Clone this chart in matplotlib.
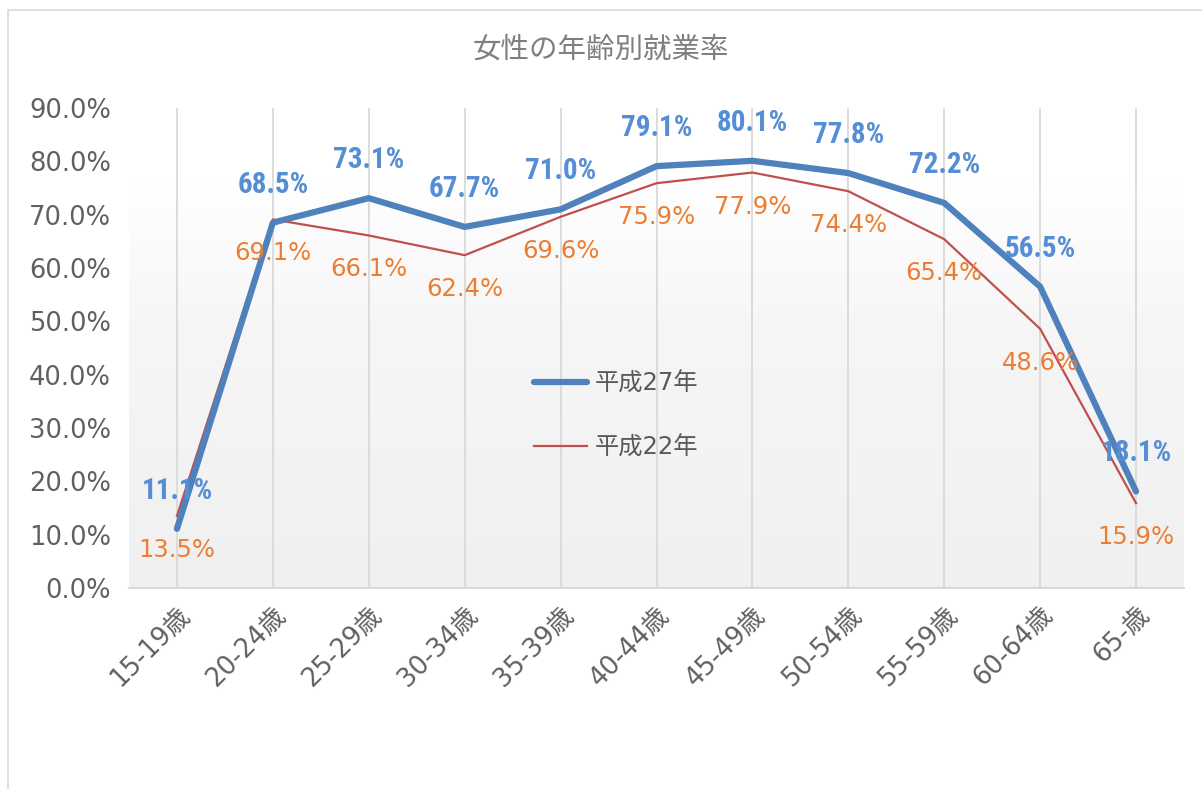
import numpy as np
import matplotlib
matplotlib.use("Agg")
import matplotlib.pyplot as plt
from matplotlib.patches import Rectangle
from matplotlib import font_manager

plt.rcParams['font.family'] = ['DejaVu Sans', 'Noto Sans CJK JP']

categories = ["15-19歳", "20-24歳", "25-29歳", "30-34歳", "35-39歳", "40-44歳",
              "45-49歳", "50-54歳", "55-59歳", "60-64歳", "65-歳"]
h27 = [11.1, 68.5, 73.1, 67.7, 71.0, 79.1, 80.1, 77.8, 72.2, 56.5, 18.1]
h22 = [13.5, 69.1, 66.1, 62.4, 69.6, 75.9, 77.9, 74.4, 65.4, 48.6, 15.9]
series_names = ["平成27年", "平成22年"]
title = "女性の年齢別就業率"
yticks = [0, 10, 20, 30, 40, 50, 60, 70, 80, 90]

available = {f.name for f in font_manager.fontManager.ttflist}
narrow = None
for cand in ["Liberation Sans Narrow", "Roboto Condensed", "Open Sans Condensed",
             "Noto Sans Condensed", "DejaVu Sans Condensed"]:
    if cand in available:
        narrow = cand
        break

W, H = 1202, 789
fig = plt.figure(figsize=(W / 100, H / 100), dpi=100)
fig.patch.set_facecolor("white")

# outer chart border
fig.patches.append(Rectangle((8 / W, -0.02), 1.05, 1 - 10 / H + 0.02,
                             transform=fig.transFigure, fill=False,
                             edgecolor="#d9d9d9", linewidth=1.2))

left, right, bottom, top = 129 / W, 1184 / W, 1 - 588 / H, 1 - 108 / H
ax = fig.add_axes([left, bottom, right - left, top - bottom])

x = np.arange(len(categories))
ax.set_xlim(-0.5, len(categories) - 0.5)
ax.set_ylim(0, 0.9)

# gradient background
grad = np.linspace(0, 1, 256).reshape(-1, 1)
cmap = matplotlib.colors.LinearSegmentedColormap.from_list(
    "g", [(0, "#f0f0f0"), (0.55, "#f6f6f6"), (0.85, "#ffffff"), (1, "#ffffff")])
ax.imshow(grad, extent=[-0.5, len(categories) - 0.5, 0, 0.9], origin="lower",
          aspect="auto", cmap=cmap, zorder=0)

for xi in x:
    ax.axvline(xi, color="#d9d9d9", linewidth=1.3, zorder=1)

for s in ["left", "right", "top"]:
    ax.spines[s].set_visible(False)
ax.spines["bottom"].set_color("#d9d9d9")
ax.spines["bottom"].set_linewidth(1.5)

blue = "#4f81bd"
red = "#c0504d"
v27 = np.array(h27) / 100
v22 = np.array(h22) / 100
ax.plot(x, v27, color=blue, linewidth=4.5, solid_capstyle="round",
        solid_joinstyle="round", label=series_names[0], zorder=3)
ax.plot(x, v22, color=red, linewidth=1.6, label=series_names[1], zorder=2)

if narrow:
    bkw = dict(family=[narrow, "DejaVu Sans"], fontsize=21, fontweight="bold")
else:
    bkw = dict(family=["DejaVu Sans"], fontsize=17, fontweight="bold", stretch="condensed")
for xi, v in zip(x, v27):
    ax.annotate(f"{v * 100:.1f}%", (xi, v), xytext=(0, 38), textcoords="offset pixels",
                ha="center", va="center", color="#558ed5", zorder=4, **bkw)
for xi, v in zip(x, v22):
    ax.annotate(f"{v * 100:.1f}%", (xi, v), xytext=(0, -34), textcoords="offset pixels",
                ha="center", va="center", color="#ed7d31", fontsize=17.5, zorder=4)

ax.set_yticks(np.array(yticks) / 100)
ax.set_yticklabels([f"{t:.1f}%" for t in yticks], fontsize=18.5, color="#606060")
ax.set_xticks(x)
ax.set_xticklabels(categories, rotation=45, ha="right", rotation_mode="anchor",
                   fontsize=18.5, color="#606060")
ax.tick_params(axis="both", length=0)
ax.tick_params(axis="y", pad=13)
ax.tick_params(axis="x", pad=10)

fig.text(0.5, 1 - 50 / H, title, ha="center", va="center", fontsize=20.5, color="#7f7f7f",
         family=["Noto Sans CJK JP"])

leg = ax.legend(loc="upper left", bbox_to_anchor=((512 - 129) / (1184 - 129), (588 - 350) / 480),
                frameon=False, fontsize=17.5, labelspacing=1.65, handlelength=2.2,
                handletextpad=0.3)
for t in leg.get_texts():
    t.set_color("#595959")

fig.savefig("out.png", dpi=100, facecolor="white")
